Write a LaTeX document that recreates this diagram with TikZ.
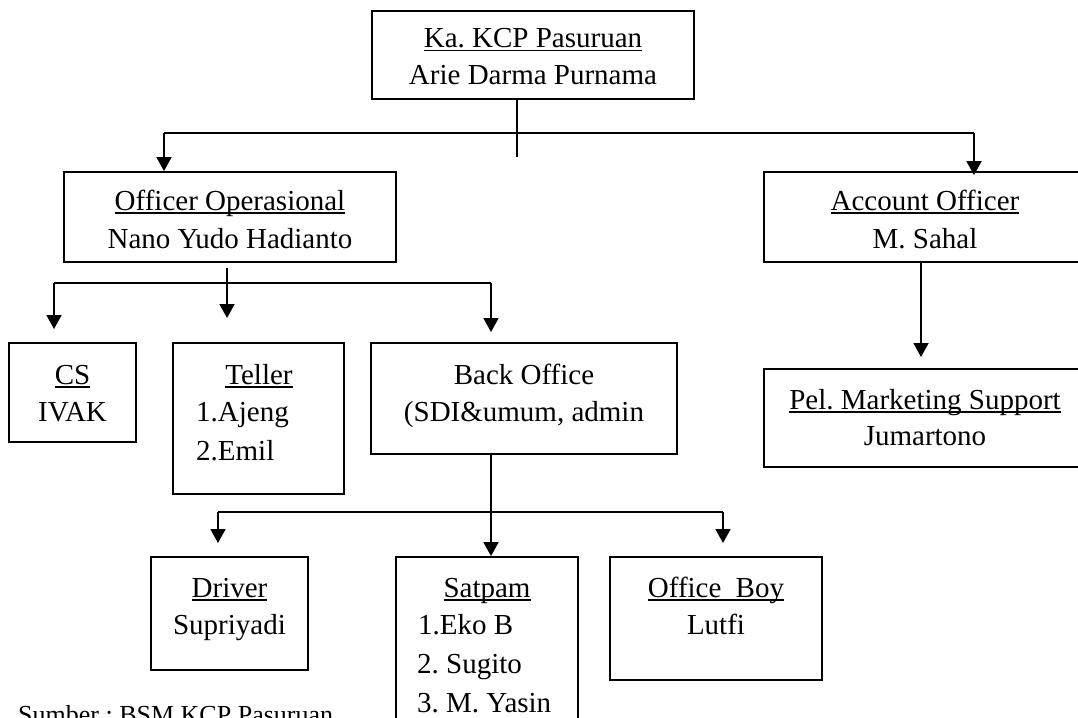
\documentclass[tikz,border=0pt]{standalone}
\usepackage{fontspec}
\setmainfont{Liberation Serif}[Ligatures=CommonOff]
\usetikzlibrary{arrows.meta}
\frenchspacing
\newcommand\ulx[1]{\setbox0\hbox{#1}\rlap{\rule[-3.5pt]{\wd0}{1.6pt}}\box0}
\tikzset{
  orgbox/.style={draw, line width=1.8pt, inner sep=0pt, rectangle},
  txt/.style={anchor=base, inner sep=0pt, font=\fontsize{29pt}{38pt}\selectfont\frenchspacing},
  ltxt/.style={anchor=base west, inner sep=0pt, font=\fontsize{29pt}{38pt}\selectfont\frenchspacing},
  conn/.style={line width=1.8pt},
  arr/.style={line width=1.8pt, -{Triangle[width=15pt,length=14pt]}}
}
\begin{document}
\begin{tikzpicture}[x=1pt,y=-1pt]
\fill[white] (0,0) rectangle (1078,717);
\useasboundingbox (0,0) rectangle (1078,717);

% boxes
\node[orgbox, minimum width=322pt, minimum height=88pt] (kep) at (533,55) {};
\node[orgbox, minimum width=332pt, minimum height=90pt] (oo) at (230,217) {};
\node[orgbox, minimum width=322pt, minimum height=90pt] (ao) at (925,217) {};
\node[orgbox, minimum width=127pt, minimum height=99pt] (cs) at (72.5,392.5) {};
\node[orgbox, minimum width=171pt, minimum height=151pt] (teller) at (258.5,418.5) {};
\node[orgbox, minimum width=306pt, minimum height=111pt] (bo) at (524,398.5) {};
\node[orgbox, minimum width=322pt, minimum height=98pt] (pel) at (925,418) {};
\node[orgbox, minimum width=157pt, minimum height=113pt] (driver) at (229.5,613.5) {};
\node[orgbox, minimum width=182pt, minimum height=183pt] (satpam) at (487,648.5) {};
\node[orgbox, minimum width=212pt, minimum height=123pt] (ob) at (716,618.5) {};

% texts
\node[txt] (kepA) at (533,48) {\ulx{Ka. KCP Pasuruan}};
\node[txt] (kepB) at (533,84) {Arie Darma Purnama};
\node[txt] (ooA) at (230,210) {\ulx{Officer Operasional}};
\node[txt] (ooB) at (230,248) {Nano Yudo Hadianto};
\node[txt] (aoA) at (925,210) {\ulx{Account Officer}};
\node[txt] (aoB) at (925,248) {M. Sahal};
\node[txt] (csA) at (72.5,384) {\ulx{CS}};
\node[txt] (csB) at (72.5,421) {IVAK};
\node[txt] (teA) at (259,384) {\ulx{Teller}};
\node[ltxt] (teB) at (196,421) {1.Ajeng};
\node[ltxt] (teC) at (196,460) {2.Emil};
\node[txt] (boA) at (524,384) {Back Office};
\node[txt] (boB) at (524,421) {(SDI\&umum, admin};
\node[txt] (pelA) at (925,409) {\ulx{Pel. Marketing Support}};
\node[txt] (pelB) at (925,445) {Jumartono};
\node[txt] (drA) at (229.5,597) {\ulx{Driver}};
\node[txt] (drB) at (229.5,634) {Supriyadi};
\node[txt] (saA) at (487,597) {\ulx{Satpam}};
\node[ltxt] (saB) at (418,634) {1.Eko B};
\node[ltxt] (saC) at (417,673) {2. Sugito};
\node[ltxt] (saD) at (417,712) {3. M. Yasin};
\node[txt] (obA) at (716,597) {\ulx{Office\hspace{7pt} Boy}};
\node[txt] (obB) at (716,634) {Lutfi};
\node[anchor=base west, inner sep=0pt, font=\fontsize{26pt}{32pt}\selectfont\frenchspacing] (src) at (18,723) {Sumber : BSM KCP Pasuruan};

% junction coordinates
\coordinate (k1) at (517,157);
\coordinate (h1L) at (164,133);
\coordinate (h1R) at (974,133);
\coordinate (o1) at (227,268);
\coordinate (o1t) at (227,318);
\coordinate (h2L) at (54,283);
\coordinate (h2R) at (491,283);
\coordinate (csT) at (54,329);
\coordinate (boT) at (491,332);
\coordinate (a1) at (921,262);
\coordinate (a1t) at (921,357);
\coordinate (s1) at (491,512);
\coordinate (h3L) at (218,512);
\coordinate (h3R) at (723,512);
\coordinate (drT) at (218,543);
\coordinate (obT) at (723,543);

% connectors
\draw[conn] (kep.south -| k1) -- (k1);
\draw[conn] (h1L) -- (h1R);
\draw[arr] (h1L) -- (h1L |- oo.north);
\draw[arr] (h1R) -- ([yshift=-4pt]h1R |- ao.north);
\draw[arr] (o1) -- (o1t);
\draw[conn] (h2L) -- (h2R);
\draw[arr] (h2L) -- (csT);
\draw[arr] (h2R) -- (boT);
\draw[arr] (ao.south -| a1) -- (a1t);
\draw[arr] (bo.south -| s1) -- (satpam.north -| s1);
\draw[conn] (h3L) -- (h3R);
\draw[arr] (h3L) -- (drT);
\draw[arr] (h3R) -- (obT);
\end{tikzpicture}
\end{document}
